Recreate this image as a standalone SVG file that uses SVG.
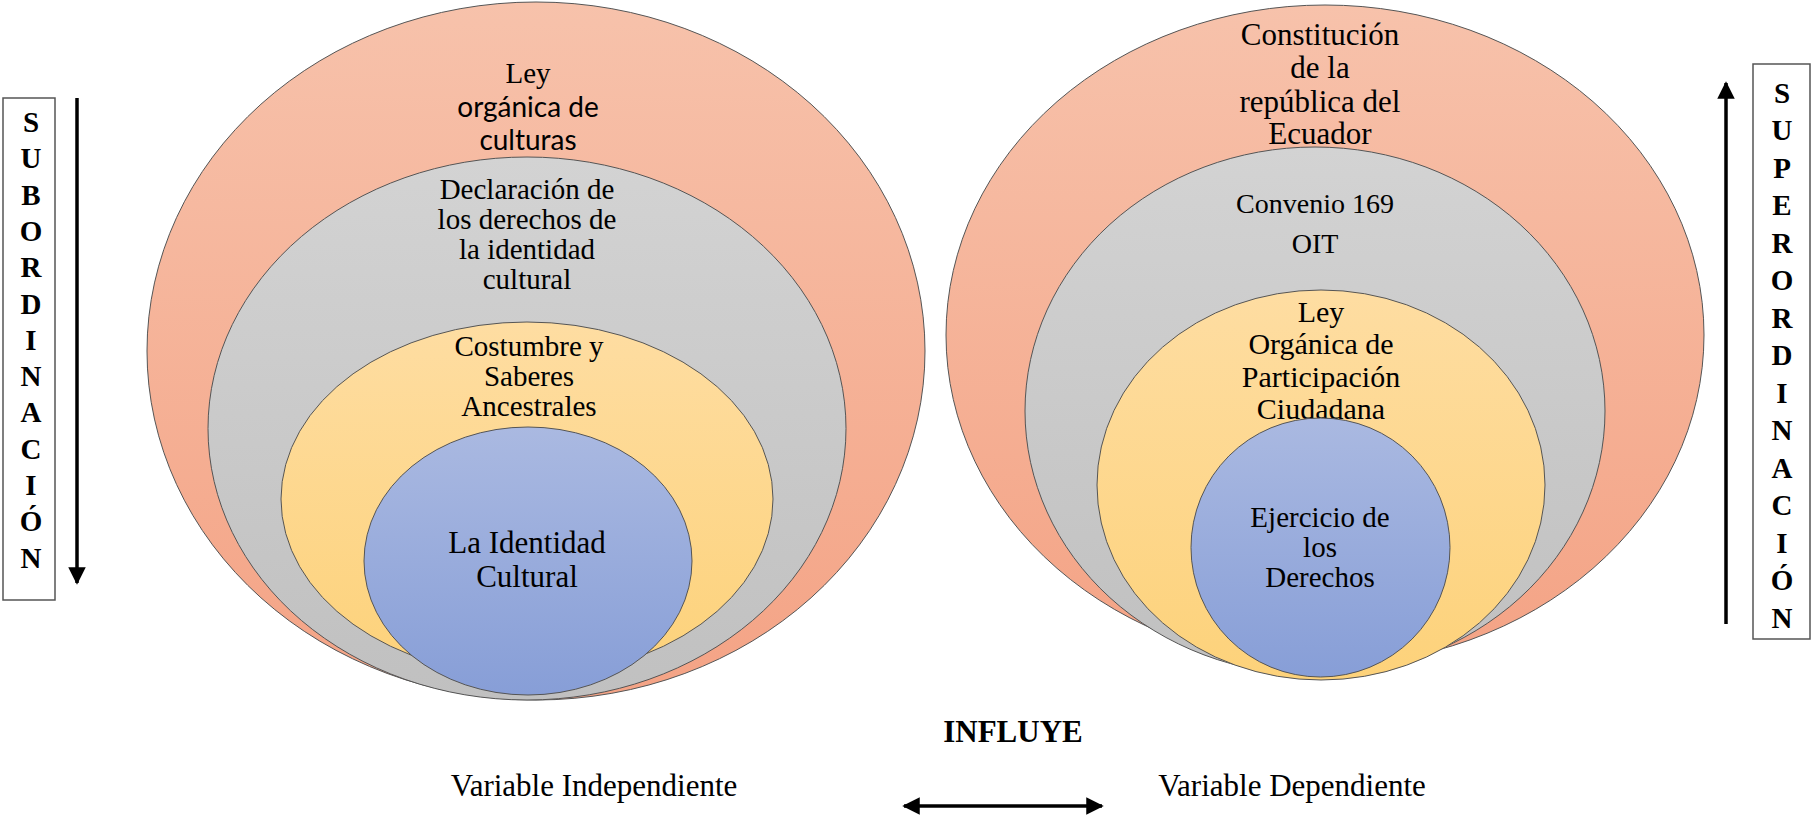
<svg xmlns="http://www.w3.org/2000/svg" width="1813" height="817" viewBox="0 0 1813 817">
<defs>
<linearGradient id="gO" x1="0" y1="0" x2="0" y2="1"><stop offset="0" stop-color="#F7C2AB"/><stop offset="1" stop-color="#F4A385"/></linearGradient>
<linearGradient id="gG" x1="0" y1="0" x2="0" y2="1"><stop offset="0" stop-color="#D3D3D3"/><stop offset="1" stop-color="#C0C0C0"/></linearGradient>
<linearGradient id="gY" x1="0" y1="0" x2="0" y2="1"><stop offset="0" stop-color="#FEDDA2"/><stop offset="1" stop-color="#FDD27A"/></linearGradient>
<linearGradient id="gB" x1="0" y1="0" x2="0" y2="1"><stop offset="0" stop-color="#AAB9E1"/><stop offset="1" stop-color="#879ED7"/></linearGradient>
<marker id="ah" viewBox="0 0 10 10" refX="9" refY="5" markerWidth="5" markerHeight="5" orient="auto-start-reverse" markerUnits="strokeWidth"><path d="M0,0 L10,5 L0,10 z" fill="#000"/></marker>
</defs>
<style>
.e{stroke:#555;stroke-width:1}
.t{font-family:"Liberation Serif","Times New Roman",serif;fill:#000;text-anchor:middle}
.s{font-family:Lato,"Liberation Sans",sans-serif;fill:#000;text-anchor:middle}
.v{font-family:"Liberation Serif","Times New Roman",serif;font-weight:bold;font-size:29px;fill:#000;text-anchor:middle}
.box{fill:#fff;stroke:#555;stroke-width:1.5}
.ln{stroke:#000;stroke-width:3.5;fill:none}
</style>
<rect width="1813" height="817" fill="#fff"/>

<g id="left-outer"><ellipse class="e" cx="536" cy="351" rx="389" ry="349" fill="url(#gO)"/>
<text class="t" x="528" y="83" font-size="29">Ley</text>
<text class="s" x="528" y="117" font-size="28">orgánica de</text>
<text class="s" x="528" y="150" font-size="28">culturas</text></g>
<g id="left-gray"><ellipse class="e" cx="527" cy="428.5" rx="319" ry="271.5" fill="url(#gG)"/>
<text class="t" x="527" y="199" font-size="29">Declaración de</text>
<text class="t" x="527" y="229" font-size="29">los derechos de</text>
<text class="t" x="527" y="259" font-size="29">la identidad</text>
<text class="t" x="527" y="289" font-size="29">cultural</text></g>
<g id="left-yellow"><ellipse class="e" cx="527" cy="499" rx="246" ry="177" fill="url(#gY)"/>
<text class="t" x="529" y="356" font-size="29">Costumbre y</text>
<text class="t" x="529" y="386" font-size="29">Saberes</text>
<text class="t" x="529" y="416" font-size="29">Ancestrales</text></g>
<g id="left-blue"><ellipse class="e" cx="528" cy="561" rx="164" ry="134" fill="url(#gB)"/>
<text class="t" x="527" y="553" font-size="31">La Identidad</text>
<text class="t" x="527" y="587" font-size="31">Cultural</text></g>

<g id="right-outer"><ellipse class="e" cx="1325" cy="335" rx="379" ry="330" fill="url(#gO)"/>
<text class="t" x="1320" y="45" font-size="31">Constitución</text>
<text class="t" x="1320" y="78" font-size="31">de la</text>
<text class="t" x="1320" y="112" font-size="31">república del</text>
<text class="t" x="1320" y="144" font-size="31">Ecuador</text></g>
<g id="right-gray"><ellipse class="e" cx="1315" cy="411" rx="290" ry="264" fill="url(#gG)"/>
<text class="t" x="1315" y="213" font-size="28">Convenio 169</text>
<text class="t" x="1315" y="253" font-size="28">OIT</text></g>
<g id="right-yellow"><ellipse class="e" cx="1321" cy="485" rx="224" ry="195" fill="url(#gY)"/>
<text class="t" x="1321" y="322" font-size="30">Ley</text>
<text class="t" x="1321" y="354" font-size="30">Orgánica de</text>
<text class="t" x="1321" y="387" font-size="30">Participación</text>
<text class="t" x="1321" y="419" font-size="30">Ciudadana</text></g>
<g id="right-blue"><ellipse class="e" cx="1320.5" cy="547.5" rx="129.5" ry="129.5" fill="url(#gB)"/>
<text class="t" x="1320" y="527" font-size="29">Ejercicio de</text>
<text class="t" x="1320" y="557" font-size="29">los</text>
<text class="t" x="1320" y="587" font-size="29">Derechos</text></g>

<g id="subordinacion">
<rect class="box" x="3" y="98" width="52" height="502"/>
<text class="v" x="31" y="132">S</text>
<text class="v" x="31" y="168">U</text>
<text class="v" x="31" y="205">B</text>
<text class="v" x="31" y="241">O</text>
<text class="v" x="31" y="277">R</text>
<text class="v" x="31" y="314">D</text>
<text class="v" x="31" y="350">I</text>
<text class="v" x="31" y="386">N</text>
<text class="v" x="31" y="422">A</text>
<text class="v" x="31" y="459">C</text>
<text class="v" x="31" y="495">I</text>
<text class="v" x="31" y="531">Ó</text>
<text class="v" x="31" y="568">N</text>
</g>
<g id="superordinacion">
<rect class="box" x="1753" y="64" width="57" height="575"/>
<text class="v" x="1782" y="103">S</text>
<text class="v" x="1782" y="140">U</text>
<text class="v" x="1782" y="178">P</text>
<text class="v" x="1782" y="215">E</text>
<text class="v" x="1782" y="253">R</text>
<text class="v" x="1782" y="290">O</text>
<text class="v" x="1782" y="328">R</text>
<text class="v" x="1782" y="365">D</text>
<text class="v" x="1782" y="403">I</text>
<text class="v" x="1782" y="440">N</text>
<text class="v" x="1782" y="478">A</text>
<text class="v" x="1782" y="515">C</text>
<text class="v" x="1782" y="553">I</text>
<text class="v" x="1782" y="590">Ó</text>
<text class="v" x="1782" y="628">N</text>
</g>

<g id="labels">
<text class="t" x="1013" y="742" font-size="31" font-weight="bold">INFLUYE</text>
<text class="t" x="594" y="796" font-size="31">Variable Independiente</text>
<text class="t" x="1292" y="796" font-size="31">Variable Dependiente</text>
</g>

<g id="connectors">
<line class="ln" x1="77" y1="98" x2="77" y2="583" marker-end="url(#ah)"/>
<line class="ln" x1="1726" y1="624" x2="1726" y2="83" marker-end="url(#ah)"/>
<line class="ln" x1="904" y1="806" x2="1102" y2="806" marker-start="url(#ah)" marker-end="url(#ah)"/>
</g>
</svg>
